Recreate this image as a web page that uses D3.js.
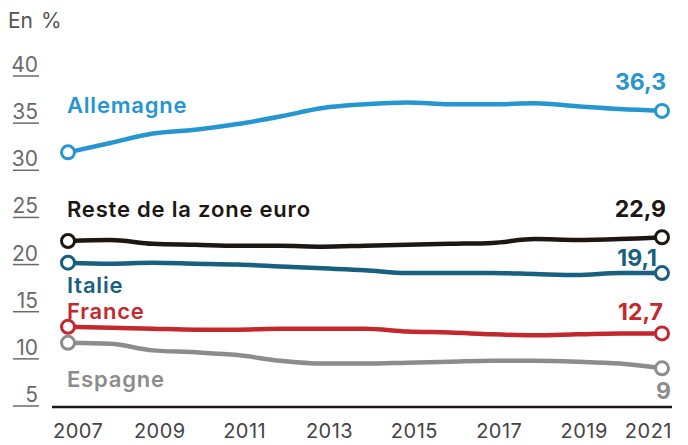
<!doctype html>
<html lang="fr">
<head>
<meta charset="utf-8">
<title>Part en %</title>
<script src="https://cdn.jsdelivr.net/npm/d3@7"></script>
<style>
  body { margin: 0; background: #fff; }
  svg { display: block; font-family: "Inter", "Roboto", sans-serif; }
  .ytick text { font-size: 21px; fill: #6a6a6a; text-anchor: end; }
  .ytick line { stroke: #6a6a6a; stroke-width: 1.5px; }
  .xtick { font-size: 20px; fill: #444; letter-spacing: 0.5px; }
  .serie { fill: none; stroke-width: 4.5px; stroke-linejoin: round; stroke-linecap: round; }
  .pt { fill: #fff; stroke-width: 3px; }
  .name { font-size: 22px; font-weight: 600; letter-spacing: 0.8px; }
  .endval { font-size: 23px; font-weight: 700; text-anchor: end; }
</style>
</head>
<body>
<svg width="688" height="445"></svg>
<script>
var years = [2007, 2008, 2009, 2010, 2011, 2012, 2013, 2014, 2015, 2016, 2017, 2018, 2019, 2020, 2021];
var yTicks = [5, 10, 15, 20, 25, 30, 35, 40];
var xTickYears = [2007, 2009, 2011, 2013, 2015, 2017, 2019, 2021];

var allemagne = [31.9, 32.9, 33.9, 34.3, 34.9, 35.7, 36.6, 37.0, 37.2, 37.0, 37.0, 37.1, 36.8, 36.5, 36.3];
var reste     = [22.5, 22.6, 22.2, 22.1, 22.0, 22.0, 21.9, 22.0, 22.1, 22.2, 22.3, 22.7, 22.6, 22.7, 22.9];
var italie    = [20.2, 20.1, 20.2, 20.1, 20.0, 19.8, 19.6, 19.4, 19.1, 19.1, 19.1, 19.0, 18.9, 19.1, 19.1];
var france    = [13.4, 13.3, 13.2, 13.1, 13.1, 13.2, 13.2, 13.2, 12.9, 12.8, 12.6, 12.5, 12.6, 12.7, 12.7];
var espagne   = [11.7, 11.6, 10.9, 10.7, 10.4, 9.8, 9.5, 9.5, 9.6, 9.7, 9.8, 9.8, 9.7, 9.5, 9.0];

var names   = ["Allemagne", "Reste de la zone euro", "Italie", "France", "Espagne"];
var endText = ["36,3", "22,9", "19,1", "12,7", "9"];
var colors  = ["#2596cf", "#1c1712", "#17607f", "#c3282c", "#8c8c8c"];

var series = [allemagne, reste, italie, france, espagne].map(function (vals, i) {
  return { name: names[i], end: endText[i], color: colors[i], values: vals };
});

var svg = d3.select("svg");
var x = d3.scaleLinear().domain([2007, 2021]).range([68, 662]);
var y = d3.scaleLinear().domain([5, 40]).range([406, 76]);

svg.append("text").attr("x", 8).attr("y", 28)
  .style("font-size", "21px").style("fill", "#555").style("word-spacing", "2px").text("En %");

// y ticks: underlined numbers
var yt = svg.selectAll(".ytick").data(yTicks).enter().append("g")
  .attr("class", "ytick")
  .attr("transform", function (d) { return "translate(0," + y(d) + ")"; });
yt.append("line").attr("x1", 13).attr("x2", 39);
yt.append("text").attr("x", 38).attr("y", -4).text(function (d) { return d; });

// x axis baseline
svg.append("line").attr("x1", 52).attr("x2", 672)
  .attr("y1", y(5) + 1).attr("y2", y(5) + 1)
  .style("stroke", "#1c1712").style("stroke-width", "2.5px");

svg.selectAll(".xtick").data(xTickYears).enter().append("text")
  .attr("class", "xtick")
  .attr("y", 438)
  .attr("x", function (d, i) {
    if (i === 0) return 53;
    if (i === xTickYears.length - 1) return 672;
    return x(d) + 7;
  })
  .attr("text-anchor", function (d, i) {
    if (i === 0) return "start";
    if (i === xTickYears.length - 1) return "end";
    return "middle";
  })
  .text(function (d) { return d; });

var line = d3.line()
  .x(function (d, i) { return x(years[i]); })
  .y(function (d) { return y(d); })
  .curve(d3.curveMonotoneX);

var g = svg.selectAll(".s").data(series).enter().append("g");
g.append("path").attr("class", "serie")
  .attr("d", function (d) { return line(d.values); })
  .style("stroke", function (d) { return d.color; });

g.append("circle").attr("class", "pt").attr("r", 6.5)
  .attr("cx", x(2007)).attr("cy", function (d) { return y(d.values[0]); })
  .style("stroke", function (d) { return d.color; });
g.append("circle").attr("class", "pt").attr("r", 6.5)
  .attr("cx", x(2021)).attr("cy", function (d) { return y(d.values[d.values.length - 1]); })
  .style("stroke", function (d) { return d.color; });

// series names, placed relative to the first value
var nameDy = [-39, -24, 30, -8, 44];
g.append("text").attr("class", "name")
  .attr("x", 67)
  .attr("y", function (d, i) { return y(d.values[0]) + nameDy[i]; })
  .style("fill", function (d) { return d.color; })
  .text(function (d) { return d.name; });

// end values
var endDy = [-21, -20, -7, -13, 31];
var endDx = [666, 666, 657, 663, 671];
g.append("text").attr("class", "endval")
  .attr("x", function (d, i) { return endDx[i]; })
  .attr("y", function (d, i) { return y(d.values[d.values.length - 1]) + endDy[i]; })
  .style("fill", function (d) { return d.color; })
  .text(function (d) { return d.end; });
</script>
</body>
</html>
